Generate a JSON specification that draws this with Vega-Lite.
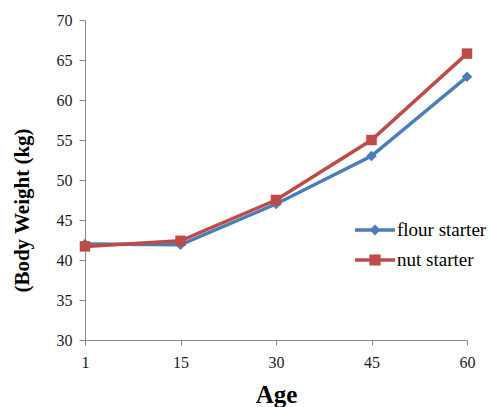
{
  "$schema": "https://vega.github.io/schema/vega-lite/v6.json",
  "width": 382,
  "height": 320,
  "autosize": {"type": "none"},
  "padding": {"left": 85, "top": 20, "right": 24, "bottom": 67},
  "background": "white",
  "config": {"view": {"stroke": null}, "font": "Liberation Serif"},
  "data": {
    "values": [
      {"age": 1, "weight": 42.0, "series": "flour starter"},
      {"age": 15, "weight": 41.9, "series": "flour starter"},
      {"age": 30, "weight": 47.0, "series": "flour starter"},
      {"age": 45, "weight": 53.0, "series": "flour starter"},
      {"age": 60, "weight": 62.9, "series": "flour starter"},
      {"age": 1, "weight": 41.7, "series": "nut starter"},
      {"age": 15, "weight": 42.4, "series": "nut starter"},
      {"age": 30, "weight": 47.5, "series": "nut starter"},
      {"age": 45, "weight": 55.0, "series": "nut starter"},
      {"age": 60, "weight": 65.8, "series": "nut starter"}
    ]
  },
  "encoding": {
    "x": {
      "field": "age",
      "type": "ordinal",
      "scale": {"type": "point", "padding": 0},
      "axis": {
        "title": "Age",
        "titleFont": "Liberation Serif",
        "titleFontSize": 25,
        "titleFontWeight": "bold",
        "titleColor": "#000000",
        "titlePadding": 12,
        "labelAngle": 0,
        "labelFont": "Liberation Serif",
        "labelFontSize": 16,
        "labelColor": "#1a1a1a",
        "labelPadding": 9,
        "domainColor": "#888888",
        "tickColor": "#888888",
        "tickSize": 5,
        "grid": false
      }
    },
    "y": {
      "field": "weight",
      "type": "quantitative",
      "scale": {"domain": [30, 70], "nice": false, "zero": false},
      "axis": {
        "title": "(Body Weight (kg)",
        "titleFont": "Liberation Serif",
        "titleFontSize": 21,
        "titleFontWeight": "bold",
        "titleColor": "#000000",
        "titleX": -53,
        "titleY": 190,
        "titleBaseline": "bottom",
        "values": [30, 35, 40, 45, 50, 55, 60, 65, 70],
        "labelFont": "Liberation Serif",
        "labelFontSize": 16,
        "labelColor": "#1a1a1a",
        "labelPadding": 7,
        "domainColor": "#888888",
        "tickColor": "#888888",
        "tickSize": 6,
        "grid": false
      }
    },
    "color": {
      "field": "series",
      "type": "nominal",
      "scale": {"domain": ["flour starter", "nut starter"], "range": ["#4A7EBB", "#BE4B48"]},
      "legend": {
        "title": null,
        "orient": "none",
        "legendX": 270,
        "legendY": 190,
        "symbolSize": 1600,
        "labelFont": "Liberation Serif",
        "labelFontSize": 19,
        "labelColor": "#000000",
        "labelOffset": 2,
        "rowPadding": -1,
        "encode": {
          "symbols": {
            "update": {
              "shape": {"signal": "datum.value == 'flour starter' ? 'M-1,-0.085H1V0.085H-1Z M0,-0.27L0.27,0L0,0.27L-0.27,0Z' : 'M-1,-0.085H1V0.085H-1Z M-0.28,-0.28H0.28V0.28H-0.28Z'"},
              "fill": {"scale": "color", "field": "value"},
              "fillOpacity": {"value": 1},
              "strokeWidth": {"value": 0},
              "opacity": {"value": 1}
            }
          }
        }
      }
    }
  },
  "layer": [
    {"mark": {"type": "line", "strokeWidth": 3.5}},
    {
      "mark": {"type": "point", "filled": true, "opacity": 1, "size": 110},
      "encoding": {
        "shape": {
          "condition": {"test": "datum.series == 'flour starter'", "value": "diamond"},
          "value": "square"
        }
      }
    }
  ]
}
